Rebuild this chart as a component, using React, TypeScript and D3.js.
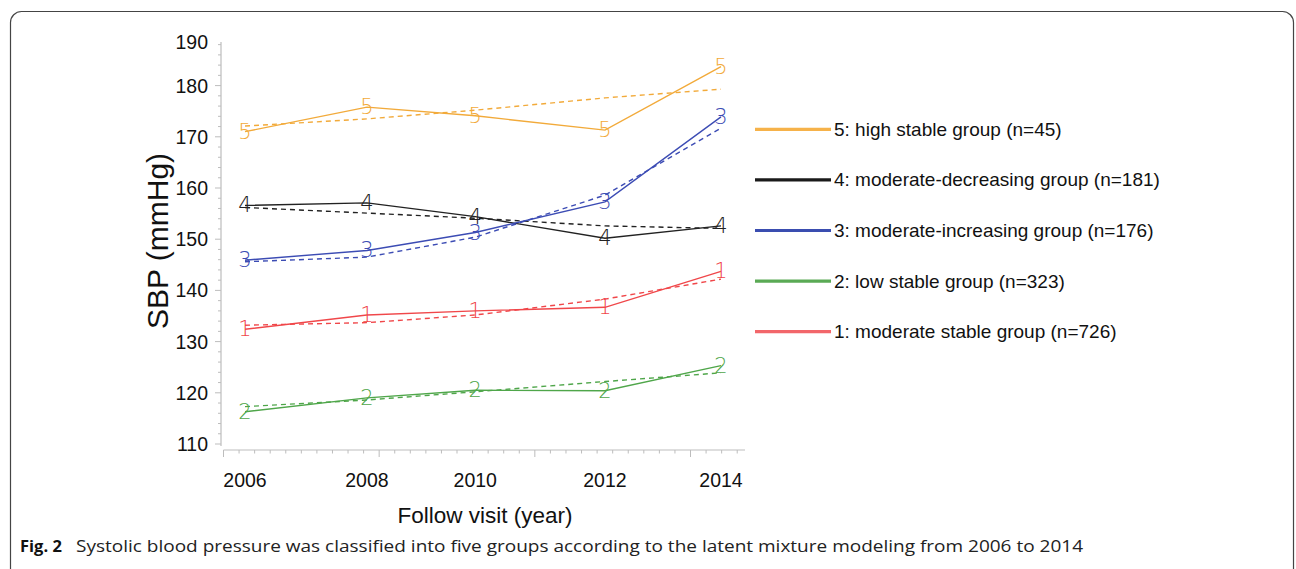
import React from 'react'
import * as d3 from 'd3'

// ------------------------------------------------------------------ //
// SBP trajectories by latent group, observed (solid) vs fitted (dashed)

const visitYears = ['2006', '2008', '2010', '2012', '2014']
// horizontal position of each visit as drawn (mean follow-up time)
const visitTimes = [2006, 2008.05, 2009.87, 2012.05, 2014]

const yTicks = [110, 120, 130, 140, 150, 160, 170, 180, 190]

const groupIds = ['5', '4', '3', '2', '1']
const groupLabels = [
    '5: high stable group (n=45)',
    '4: moderate-decreasing group (n=181)',
    '3: moderate-increasing group (n=176)',
    '2: low stable group (n=323)',
    '1: moderate stable group (n=726)',
]
const groupColors = ['#f2aa3a', '#222222', '#3c4cb4', '#4fa64a', '#f0474a']
const legendColors = ['#f6b24a', '#1a1a1a', '#3a4db0', '#5aaa55', '#f2666a']

// observed means
const observed = [
    [171.0, 175.8, 174.1, 171.3, 183.7],
    [156.6, 157.1, 154.4, 150.2, 152.6],
    [145.9, 147.8, 151.3, 157.3, 173.9],
    [116.3, 119.0, 120.5, 120.4, 125.3],
    [132.4, 135.2, 136.0, 136.7, 143.7],
]
// model-predicted means
const fitted = [
    [172.1, 173.5, 175.2, 177.6, 179.3],
    [156.2, 155.1, 154.1, 152.6, 152.1],
    [145.6, 146.5, 150.4, 158.6, 171.7],
    [117.3, 118.6, 120.2, 122.2, 123.9],
    [133.2, 133.7, 135.2, 138.3, 142.2],
]

const W = 1296, H = 569
const font = "'Liberation Sans', Arial, sans-serif"

export default function App() {
    const xScale = d3.scaleLinear().domain([2006, 2014]).range([245, 721])
    const yScale = d3.scaleLinear().domain([110, 190]).range([444, 34.4])

    // x axis drawn with 10 minor divisions between major ticks
    const axisX0 = 223.5, axisX1 = 745, axisY = 450
    const axisScale = d3.scaleLinear().domain([0, 33.5]).range([axisX0, axisX1])
    const xMinor = d3.range(0, 34)
    const yAxisTop = 42
    const yMinor = d3.range(110, 189, 2)

    const line = d3.line<number>()
        .x((d, i) => xScale(visitTimes[i]))
        .y(d => yScale(d))

    const legendY = d3.scaleLinear().domain([0, 4]).range([129.3, 331.7])

    return (
        <svg width={W} height={H} style={{ position: 'absolute', left: 0, top: 0 }}
            fontFamily={font}>
            <rect x={0} y={0} width={W} height={H} fill="#fff" />
            <rect x={10.5} y={11.5} width={1283} height={575} rx={11}
                fill="none" stroke="#444" strokeWidth={1.2} />

            {/* y axis */}
            <line x1={221} x2={221} y1={yAxisTop} y2={446} stroke="#bdbdbd" strokeWidth={1.2} />
            {yMinor.map(v => (
                <line key={'ym' + v} x1={221} x2={v % 10 === 0 ? 215 : 218}
                    y1={yScale(v)} y2={yScale(v)} stroke="#bdbdbd" strokeWidth={1} />
            ))}
            {yTicks.map(v => (
                <text key={'yt' + v} x={208} y={Math.max(yScale(v), yAxisTop)}
                    dominantBaseline="central" textAnchor="end" fontSize={19.5} fill="#111">
                    {v}
                </text>
            ))}
            <text transform="translate(168,241) rotate(-90)" textAnchor="middle"
                fontSize={30} fill="#111">SBP (mmHg)</text>

            {/* x axis */}
            <line x1={axisX0} x2={axisX1} y1={axisY} y2={axisY} stroke="#bdbdbd" strokeWidth={1.2} />
            {xMinor.map(t => (
                <line key={'xm' + t} x1={axisScale(t)} x2={axisScale(t)} y1={axisY}
                    y2={t % 10 === 0 ? axisY + 7 : axisY + 3.5} stroke="#bdbdbd" strokeWidth={1} />
            ))}
            {visitYears.map((lab, i) => (
                <text key={'xt' + lab} x={xScale(visitTimes[i])} y={487} textAnchor="middle"
                    fontSize={19.5} fill="#111">{lab}</text>
            ))}
            <text x={485} y={523} textAnchor="middle" fontSize={22.5} fill="#111">
                Follow visit (year)
            </text>

            {/* fitted trajectories */}
            {fitted.map((vals, g) => (
                <path key={'f' + g} d={line(vals) || ''} fill="none" stroke={groupColors[g]}
                    strokeWidth={1.4} strokeDasharray="5,4" />
            ))}
            {/* observed trajectories */}
            {observed.map((vals, g) => (
                <g key={'o' + g}>
                    <path d={line(vals) || ''} fill="none" stroke={groupColors[g]} strokeWidth={1.4} />
                    {vals.map((v, i) => (
                        <text key={i} x={xScale(visitTimes[i])} y={yScale(v)} textAnchor="middle"
                            dominantBaseline="central" fontSize={21} fill={groupColors[g]}
                            fontWeight={200} fontFamily="'DejaVu Sans', sans-serif">
                            {groupIds[g]}
                        </text>
                    ))}
                </g>
            ))}

            {/* legend */}
            {groupLabels.map((lab, g) => (
                <g key={'lg' + g}>
                    <line x1={755} x2={831} y1={legendY(g)} y2={legendY(g)}
                        stroke={legendColors[g]} strokeWidth={3.2} />
                    <text x={834} y={legendY(g)} dominantBaseline="central" fontSize={19} fill="#111">
                        {lab}
                    </text>
                </g>
            ))}

            {/* caption */}
            <text x={20} y={552} fontSize={16.5} fill="#111" fontFamily="'Open Sans', sans-serif">
                <tspan fontWeight="bold">Fig. 2</tspan>
            </text>
            <text x={76} y={552} fontSize={16} fill="#222" fontFamily="'Open Sans', sans-serif"
                textLength={1007} lengthAdjust="spacingAndGlyphs">
                Systolic blood pressure was classified into five groups according to the latent mixture modeling from 2006 to 2014
            </text>
        </svg>
    )
}
